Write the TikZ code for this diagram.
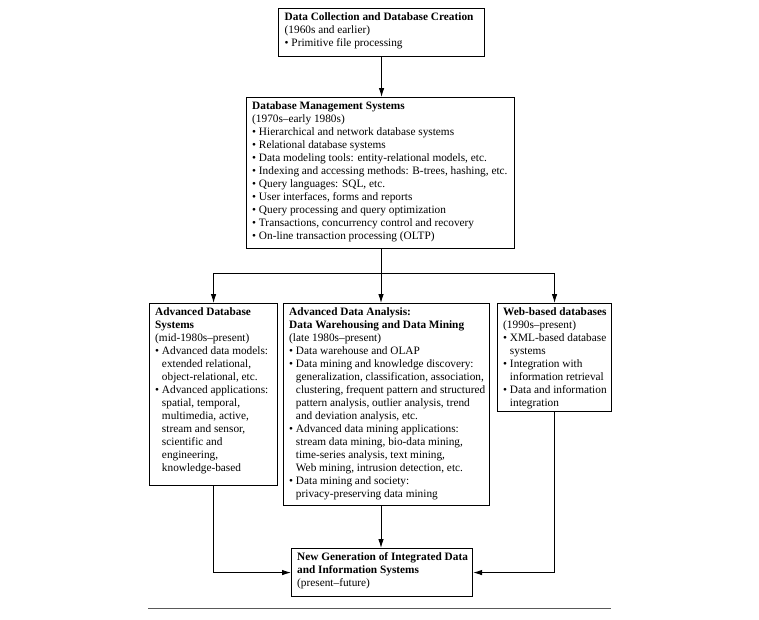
\documentclass[tikz,border=0pt]{standalone}
\usepackage{fontspec}
\setmainfont{Liberation Serif}
\usetikzlibrary{arrows.meta}
\newcommand{\bl}{\textbullet\ }
\newcommand{\ind}{\phantom{\textbullet\ }}
\begin{document}
\begin{tikzpicture}[x=1pt,y=-1pt,
  box/.style={draw, line width=1.1pt, rectangle, inner sep=0pt, anchor=north west},
  txt/.style={inner sep=0pt, anchor=north west, align=left, font=\fontsize{11.3}{13}\selectfont},
  arr/.style={line width=0.9pt, -{Latex[length=9pt,width=5.5pt]}},
  con/.style={line width=0.9pt},
  rulestyle/.style={line width=0.9pt, black!65}]
\useasboundingbox (0,0) rectangle (759,619);

% boxes
\node[box, minimum width=206pt, minimum height=48pt] (top) at (278,8) {};
\node[box, minimum width=268pt, minimum height=151pt] (dbms) at (246,97) {};
\node[box, minimum width=128pt, minimum height=182pt] (adb) at (149,303) {};
\node[box, minimum width=206pt, minimum height=202pt] (mid) at (283,303) {};
\node[box, minimum width=114pt, minimum height=108pt] (web) at (497,303) {};
\node[box, minimum width=181pt, minimum height=48pt] (new) at (291,548) {};

% texts
\node[txt] (toptxt) at ([shift={(6.5,4)}]top.north west)
  {\textbf{Data Collection and Database Creation}\\
   (1960s and earlier)\\
   \bl Primitive file processing};

\node[txt] (dbmstxt) at ([shift={(6,4)}]dbms.north west)
  {\textbf{Database Management Systems}\\
   (1970s--early 1980s)\\
   \bl Hierarchical and network database systems\\
   \bl Relational database systems\\
   \bl Data modeling tools: entity-relational models, etc.\\
   \bl Indexing and accessing methods: B-trees, hashing, etc.\\
   \bl Query languages: SQL, etc.\\
   \bl User interfaces, forms and reports\\
   \bl Query processing and query optimization\\
   \bl Transactions, concurrency control and recovery\\
   \bl On-line transaction processing (OLTP)};

\node[txt] (adbtxt) at ([shift={(6,4)}]adb.north west)
  {\textbf{Advanced Database}\\
   \textbf{Systems}\\
   (mid-1980s--present)\\
   \bl Advanced data models:\\
   \ind extended relational,\\
   \ind object-relational, etc.\\
   \bl Advanced applications:\\
   \ind spatial, temporal,\\
   \ind multimedia, active,\\
   \ind stream and sensor,\\
   \ind scientific and\\
   \ind engineering,\\
   \ind knowledge-based};

\node[txt] (midtxt) at ([shift={(6,4)}]mid.north west)
  {\textbf{Advanced Data Analysis:}\\
   \textbf{Data Warehousing and Data Mining}\\
   (late 1980s--present)\\
   \bl Data warehouse and OLAP\\
   \bl Data mining and knowledge discovery:\\
   \ind generalization, classification, association,\\
   \ind clustering, frequent pattern and structured\\
   \ind pattern analysis, outlier analysis, trend\\
   \ind and deviation analysis, etc.\\
   \bl Advanced data mining applications:\\
   \ind stream data mining, bio-data mining,\\
   \ind time-series analysis, text mining,\\
   \ind Web mining, intrusion detection, etc.\\
   \bl Data mining and society:\\
   \ind privacy-preserving data mining};

\node[txt] (webtxt) at ([shift={(6,4)}]web.north west)
  {\textbf{Web-based databases}\\
   (1990s--present)\\
   \bl XML-based database\\
   \ind systems\\
   \bl Integration with\\
   \ind information retrieval\\
   \bl Data and information\\
   \ind integration};

\node[txt] (newtxt) at ([shift={(6,4)}]new.north west)
  {\textbf{New Generation of Integrated Data}\\
   \textbf{and Information Systems}\\
   (present--future)};

% connectors
\coordinate (br) at (381,273);
\draw[arr] (top.south) -- (top.south |- dbms.north);
\draw[con] (dbms.south -| br) -- (br);
\draw[arr] (br) -| (adb.north);
\draw[arr] (br) -| (web.north);
\draw[arr] (br) -- (br |- mid.north);
\draw[arr] (adb.south) |- (new.west);
\draw[arr] (web.south) |- (new.east);
\draw[arr] (br |- mid.south) -- (br |- new.north);

% bottom rule
\draw[rulestyle] (148,608) -- (611,608);
\end{tikzpicture}
\end{document}
